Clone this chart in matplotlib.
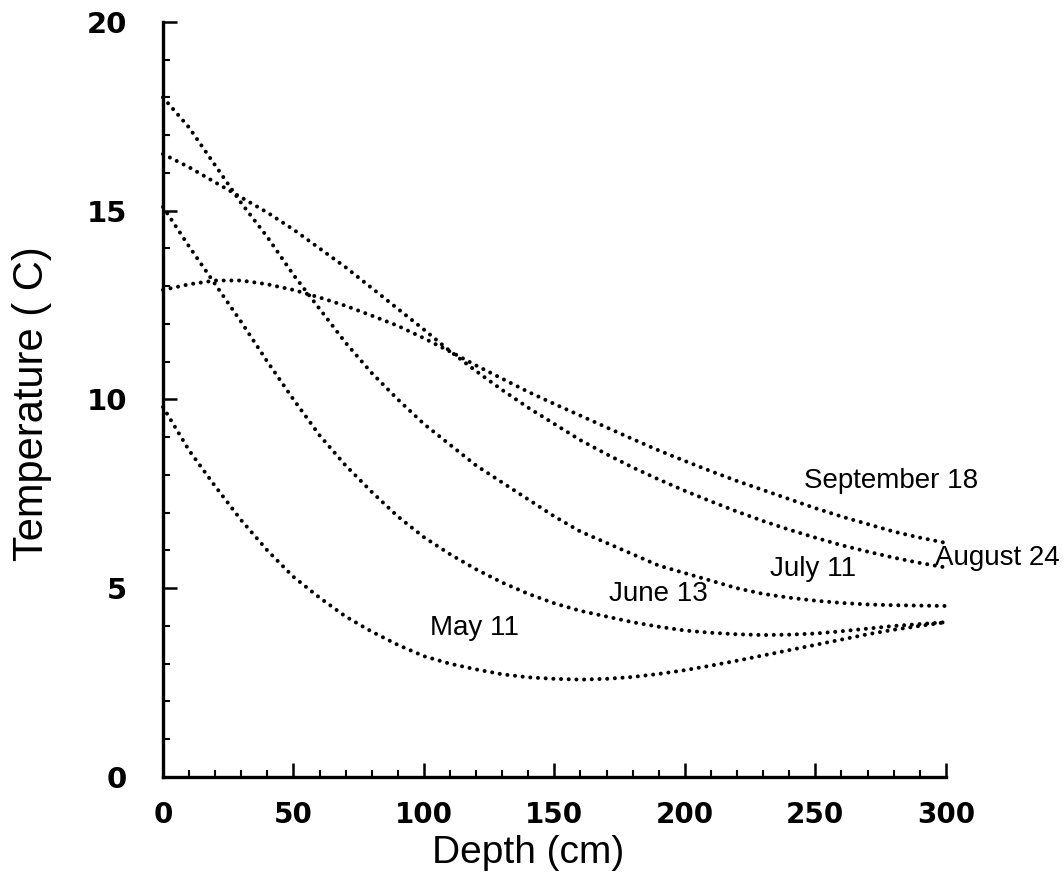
import numpy as np
import matplotlib.pyplot as plt
from matplotlib.ticker import MultipleLocator

# depth (cm) and temperature profiles (C)
depth = np.arange(0, 301, 10)

may_11 = [9.8, 8.65, 7.7, 6.8, 6.0, 5.3, 4.75, 4.25, 3.85, 3.5, 3.2,
          3.0, 2.85, 2.72, 2.64, 2.6, 2.58, 2.6, 2.65, 2.73, 2.83,
          2.95, 3.08, 3.22, 3.36, 3.5, 3.64, 3.78, 3.9, 4.0, 4.1]
june_13 = [15.1, 14.05, 13.05, 12.05, 11.0, 10.0, 9.05, 8.25, 7.55, 6.9, 6.35,
           5.9, 5.5, 5.15, 4.85, 4.6, 4.4, 4.25, 4.1, 3.98, 3.88,
           3.82, 3.78, 3.76, 3.77, 3.8, 3.86, 3.93, 4.0, 4.05, 4.1]
july_11 = [18.0, 17.2, 16.2, 15.2, 14.3, 13.3, 12.4, 11.5, 10.7, 10.0, 9.35,
           8.8, 8.25, 7.8, 7.35, 6.9, 6.5, 6.2, 5.9, 5.6, 5.4,
           5.2, 5.0, 4.85, 4.75, 4.67, 4.61, 4.57, 4.55, 4.54, 4.53]
aug_24 = [16.5, 16.15, 15.75, 15.35, 14.95, 14.5, 14.0, 13.5, 12.95, 12.4, 11.85,
          11.28, 10.75, 10.25, 9.78, 9.35, 8.92, 8.55, 8.2, 7.88, 7.58,
          7.3, 7.03, 6.78, 6.55, 6.34, 6.14, 5.97, 5.81, 5.67, 5.55]
sep_18 = [12.9, 13.05, 13.15, 13.15, 13.05, 12.9, 12.7, 12.48, 12.22, 11.95, 11.62,
          11.27, 10.9, 10.55, 10.2, 9.88, 9.57, 9.26, 8.95, 8.65, 8.37,
          8.1, 7.84, 7.6, 7.36, 7.12, 6.9, 6.7, 6.5, 6.34, 6.2]

labels = ['May 11', 'June 13', 'July 11', 'August 24', 'September 18']
label_x = [119.5, 190, 249, 296, 279]
label_y = [3.95, 4.85, 5.5, 5.8, 7.85]
label_ha = ['center', 'center', 'center', 'left', 'center']

fig = plt.figure(figsize=(10.64, 8.75), dpi=100)
ax = fig.add_axes([0.1532, 0.112, 0.7357, 0.863])

for temps in [may_11, june_13, july_11, aug_24, sep_18]:
    ax.plot(depth, temps, color='black', linewidth=2.9,
            linestyle=(0, (0.01, 1.9)), dash_capstyle='round', clip_on=False)

for name, lx, ly, ha in zip(labels, label_x, label_y, label_ha):
    ax.text(lx, ly, name, fontsize=20, family='Liberation Sans',
            ha=ha, va='center', clip_on=False)

ax.set_xlim(0, 300)
ax.set_ylim(0, 20)
ax.spines['top'].set_visible(False)
ax.spines['right'].set_visible(False)
ax.spines['left'].set_linewidth(2.4)
ax.spines['bottom'].set_linewidth(2.4)

ax.xaxis.set_major_locator(MultipleLocator(50))
ax.xaxis.set_minor_locator(MultipleLocator(10))
ax.yaxis.set_major_locator(MultipleLocator(5))
ax.yaxis.set_minor_locator(MultipleLocator(1))
ax.tick_params(which='major', direction='in', length=10, width=1.8)
ax.tick_params(which='minor', direction='in', length=5, width=1.5)
ax.tick_params(axis='x', which='major', pad=17, labelsize=20)
ax.tick_params(axis='y', which='major', pad=26, labelsize=21)
for lab in ax.get_xticklabels():
    lab.set_fontweight('bold')
for lab in ax.get_yticklabels():
    lab.set_fontweight('bold')

ax.set_xlabel('Depth (cm)', fontsize=28, family='Liberation Sans')
ax.set_ylabel('Temperature ( C)', fontsize=30, family='Liberation Sans')
ax.xaxis.set_label_coords(0.466, -0.077)
ax.yaxis.set_label_coords(-0.142, 0.495)

fig.savefig('out.png', dpi=100)
